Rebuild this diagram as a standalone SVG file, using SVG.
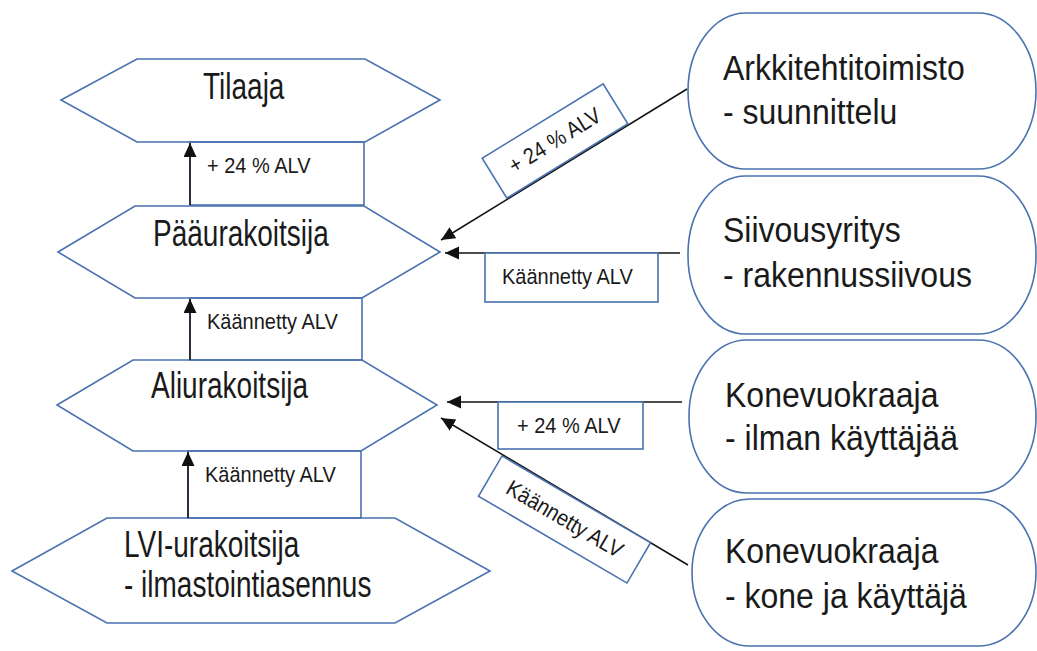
<svg xmlns="http://www.w3.org/2000/svg" width="1037" height="651" viewBox="0 0 1037 651">
<style>
.shape{fill:#fff;stroke:#4a72b0;stroke-width:1.6}
.lbl{fill:#fff;stroke:#4a72b0;stroke-width:1.6}
.lblo{fill:none;stroke:#4a72b0;stroke-width:1.6}
.big{font-family:"Liberation Sans",Arial,sans-serif;font-size:28px;fill:#1a1a1a}
.rt{font-family:"Liberation Sans",Arial,sans-serif;font-size:32px;fill:#1a1a1a}
.sm{font-family:"Liberation Sans",Arial,sans-serif;font-size:20px;fill:#1a1a1a}
.ln{stroke:#111;stroke-width:1.5;fill:none;marker-end:url(#ah)}
</style>
<defs>
<marker id="ah" markerUnits="userSpaceOnUse" markerWidth="16" markerHeight="14" refX="14" refY="6.5" orient="auto">
<path d="M0,0 L14,6.5 L0,13 z" fill="#111"/>
</marker>
</defs>
<rect width="1037" height="651" fill="#fff"/>

<g id="tilaaja">
<polygon class="shape" points="61,100 137,59 365,59 440,100 365,142 137,142"/>
<text class="big" transform="translate(203,99) scale(1,1.3)">Tilaaja</text>
</g>
<g id="paaurakoitsija">
<polygon class="shape" points="58,252 135,206 364,206 440,252 362,298 135,298"/>
<text class="big" transform="translate(153,246) scale(1,1.3)">Pääurakoitsija</text>
</g>
<g id="aliurakoitsija">
<polygon class="shape" points="57,405 133,360 362,360 437,405 361,451 133,451"/>
<text class="big" transform="translate(151,398) scale(1,1.3)">Aliurakoitsija</text>
</g>
<g id="lvi">
<polygon class="shape" points="12,571 107,518 395,518 490,571 395,623 107,623"/>
<text class="big" transform="translate(124,557) scale(1,1.3)">LVI-urakoitsija</text>
<text class="big" transform="translate(124,597) scale(1,1.3)">- ilmastointiasennus</text>
</g>

<g id="arkkitehti">
<rect class="shape" x="688" y="13" width="348" height="156" rx="58" ry="78"/>
<text class="rt" transform="translate(723,80) scale(1,1.08)">Arkkitehtitoimisto</text>
<text class="rt" transform="translate(723,124) scale(1,1.08)">- suunnittelu</text>
</g>
<g id="siivous">
<rect class="shape" x="688" y="176" width="348" height="158" rx="58" ry="78"/>
<text class="rt" transform="translate(723,242) scale(1,1.08)">Siivousyritys</text>
<text class="rt" transform="translate(723,287) scale(1,1.08)">- rakennussiivous</text>
</g>
<g id="kone1">
<rect class="shape" x="689" y="340" width="347" height="153" rx="58" ry="76"/>
<text class="rt" transform="translate(725,407) scale(1,1.08)">Konevuokraaja</text>
<text class="rt" transform="translate(725,450) scale(1,1.08)">- ilman käyttäjää</text>
</g>
<g id="kone2">
<rect class="shape" x="692" y="499" width="344" height="147" rx="58" ry="74"/>
<text class="rt" transform="translate(725,563) scale(1,1.08)">Konevuokraaja</text>
<text class="rt" transform="translate(725,608) scale(1,1.08)">- kone ja käyttäjä</text>
</g>

<g id="connectors">
<rect class="lblo" x="190" y="142" width="174" height="63"/>
<rect class="lblo" x="190" y="298" width="172" height="62"/>
<rect class="lblo" x="188" y="451" width="173" height="67"/>
<line class="ln" x1="190" y1="205" x2="190" y2="143"/>
<line class="ln" x1="190" y1="360" x2="190" y2="299"/>
<line class="ln" x1="188" y1="518" x2="188" y2="452"/>
<line class="ln" x1="687" y1="89" x2="441" y2="240"/>
<line class="ln" x1="680" y1="253" x2="445" y2="253"/>
<line class="ln" x1="682" y1="402" x2="447" y2="402"/>
<line class="ln" x1="688" y1="565" x2="441" y2="418"/>
<text class="sm" transform="translate(207,173) scale(1,1.12)">+ 24 % ALV</text>
<text class="sm" transform="translate(207,329) scale(1,1.12)">Käännetty ALV</text>
<text class="sm" transform="translate(205,482) scale(1,1.12)">Käännetty ALV</text>
<rect class="lbl" x="485" y="253" width="173" height="49"/>
<text class="sm" transform="translate(502,284) scale(1,1.12)">Käännetty ALV</text>
<rect class="lbl" x="498" y="402" width="145" height="47"/>
<text class="sm" transform="translate(517,433) scale(1,1.12)">+ 24 % ALV</text>
<g transform="translate(555,141) rotate(-31.6)">
<rect class="lbl" x="-71" y="-23.5" width="142" height="47"/>
<text class="sm" text-anchor="middle" transform="translate(0,7) scale(1,1.12)">+ 24 % ALV</text>
</g>
<g transform="translate(564.5,519.5) rotate(30.3)">
<rect class="lbl" x="-86" y="-23.3" width="172" height="46.6"/>
<text class="sm" text-anchor="middle" transform="translate(0,7) scale(1,1.12)">Käännetty ALV</text>
</g>
</g>
</svg>
